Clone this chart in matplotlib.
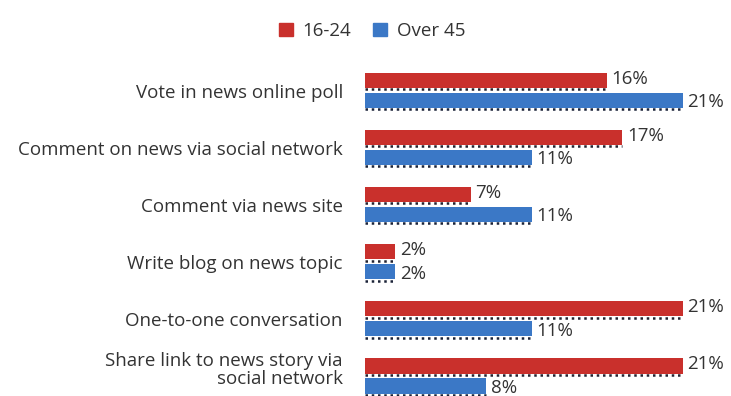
import numpy as np
import matplotlib.pyplot as plt
from matplotlib.patches import Patch
from matplotlib.transforms import ScaledTranslation

categories = ['Vote in news online poll',
              'Comment on news via social network',
              'Comment via news site',
              'Write blog on news topic',
              'One-to-one conversation',
              'Share link to news story via\nsocial network']
young = [16, 17, 7, 2, 21, 21]
older = [21, 11, 11, 2, 11, 8]
series_names = ['16-24', 'Over 45']

red = '#c9302c'
blue = '#3b78c6'
plt.rcParams['font.family'] = ['Open Sans', 'DejaVu Sans']

fig = plt.figure(figsize=(7.31, 3.96), dpi=100)
# axes spans from bar origin (x=365px) to the right edge
ax = fig.add_axes([365 / 731, 0, 366 / 731, 1])
px_per_pct = 15.14
ax.set_xlim(0, 366 / px_per_pct)
ax.set_ylim((396 - 90.5) / 57.1, -90.5 / 57.1)

y = np.arange(len(categories))
h = 0.265
off = 0.175
ax.barh(y - off, young, height=h, color=red, edgecolor='none')
ax.barh(y + off, older, height=h, color=blue, edgecolor='none')

# dotted shadow along bottom edges
for yi, v in zip(y - off, young):
    ax.plot([0, v], [yi + h / 2 + 0.02] * 2, color='#222230', lw=1.8,
            ls=(0, (1, 1.5)), solid_capstyle='butt')
for yi, v in zip(y + off, older):
    ax.plot([0, v], [yi + h / 2 + 0.02] * 2, color='#1a2238', lw=1.8,
            ls=(0, (1, 1.5)), solid_capstyle='butt')

fs = 13.5
for yi, v in zip(y - off, young):
    ax.text(v + 0.3, yi - 0.03, f'{v}%', va='center', ha='left', fontsize=fs, color='#333333')
for yi, v in zip(y + off, older):
    ax.text(v + 0.3, yi + 0.03, f'{v}%', va='center', ha='left', fontsize=fs, color='#333333')

ax.set_yticks(y)
ax.set_yticklabels(categories, fontsize=fs, color='#333333', ha='right',
                   multialignment='right', linespacing=1.05)
ax.tick_params(axis='y', length=0, pad=16)
# nudge the two-line label up so it stays inside the figure
last = ax.get_yticklabels()[-1]
last.set_transform(last.get_transform() + ScaledTranslation(0, 6 / 72, fig.dpi_scale_trans))
ax.set_xticks([])
for s in ax.spines.values():
    s.set_visible(False)

handles = [Patch(color=red), Patch(color=blue)]
fig.legend(handles, series_names, loc='center', bbox_to_anchor=(372 / 731, 1 - 31 / 396),
           ncol=2, frameon=False, fontsize=fs, handlelength=0.75, handleheight=0.75,
           handletextpad=0.5, columnspacing=1.2, labelcolor='#333333')

fig.savefig('out.png', dpi=100)
